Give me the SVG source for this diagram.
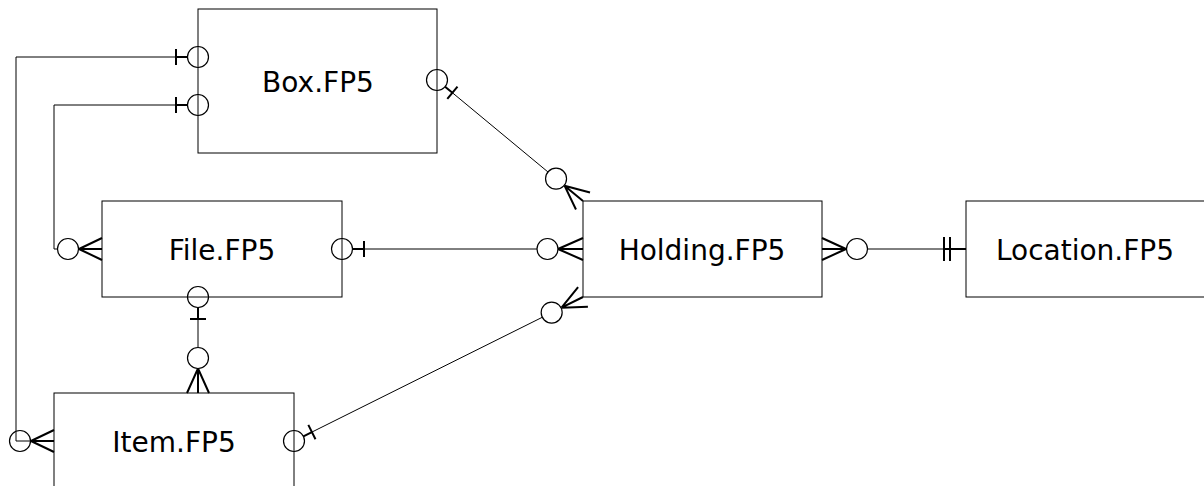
<svg xmlns="http://www.w3.org/2000/svg" width="1204" height="486" viewBox="0 0 1204 486">
  <style>
    .entity rect { fill: #ffffff; stroke: #000000; stroke-width: 1; }
    .entity text { font-family: "DejaVu Sans", Verdana, sans-serif; font-size: 28px; fill: #000000; text-anchor: middle; }
    .line { fill: none; stroke: #000000; stroke-width: 1; }
    .bold { fill: none; stroke: #000000; stroke-width: 2; }
    .ring { fill: none; stroke: #000000; stroke-width: 1.2; }
  </style>
  <rect width="1204" height="486" fill="#ffffff"/>

  <!-- entities -->
  <g id="box">
    <g class="entity"><rect x="198" y="9" width="239" height="144"/><text x="318" y="92">Box.FP5</text></g>
  </g>
  <g id="file">
    <g class="entity"><rect x="102" y="201" width="240" height="96"/><text x="222" y="260">File.FP5</text></g>
  </g>
  <g id="holding">
    <g class="entity"><rect x="583" y="201" width="239" height="96"/><text x="702" y="260">Holding.FP5</text></g>
  </g>
  <g id="location">
    <g class="entity"><rect x="966" y="201" width="240" height="96"/><text x="1085" y="260">Location.FP5</text></g>
  </g>
  <g id="item">
    <g class="entity"><rect x="54" y="393" width="240" height="96"/><text x="174" y="452">Item.FP5</text></g>
  </g>

  <!-- relationships -->
  <g id="connectors">
    <!-- Box -> Item (left loop) -->
    <path class="line" d="M176,57 H16 V441 H31"/>
    <path class="bold" d="M176,49 V65 M176,57 H187.5"/>
    <circle class="ring" cx="198" cy="57" r="10.5"/>
    <circle class="ring" cx="20" cy="441" r="10.5"/>
    <path class="bold" d="M31,441 L54,430 M31,441 H54 M31,441 L54,452"/>

    <!-- Box -> File (left loop) -->
    <path class="line" d="M176,105 H54 V249 H57.5"/>
    <path class="bold" d="M176,97 V113 M176,105 H187.5"/>
    <circle class="ring" cx="198" cy="105" r="10.5"/>
    <circle class="ring" cx="68" cy="249" r="10.5"/>
    <path class="bold" d="M79,249 L102,238 M79,249 H102 M79,249 L102,260"/>

    <!-- Box -> Holding -->
    <circle class="ring" cx="437" cy="80" r="10.5"/>
    <path class="bold" d="M445.09,86.7 L452.4,92.76 M447.3,98.92 L457.5,86.6"/>
    <path class="line" d="M452.4,92.76 L547.96,171.97"/>
    <circle class="ring" cx="556.05" cy="178.67" r="10.5"/>
    <path class="bold" d="M564.52,185.69 L575.98,209.47 M564.52,185.69 L583,201 M564.52,185.69 L590.02,192.53"/>

    <!-- File -> Holding -->
    <circle class="ring" cx="342" cy="249" r="10.5"/>
    <path class="bold" d="M352.5,249 H364 M364,241 V257"/>
    <path class="line" d="M364,249 H537"/>
    <circle class="ring" cx="547.5" cy="249" r="10.5"/>
    <path class="bold" d="M558,249 L583,238 M558,249 H583 M558,249 L583,260"/>

    <!-- File -> Item -->
    <circle class="ring" cx="198" cy="297" r="10.5"/>
    <path class="bold" d="M198,307.5 V319 M190,319 H206"/>
    <path class="line" d="M198,319 V347.5"/>
    <circle class="ring" cx="198" cy="358" r="10.5"/>
    <path class="bold" d="M198,368.5 L187,393 M198,368.5 V393 M198,368.5 L209,393"/>

    <!-- Item -> Holding -->
    <circle class="ring" cx="294" cy="441" r="10.5"/>
    <path class="bold" d="M303.4,436.32 L311.9,432.08 M315.47,439.24 L308.33,424.92"/>
    <path class="line" d="M311.9,432.08 L542.27,317.29"/>
    <circle class="ring" cx="551.67" cy="312.61" r="10.5"/>
    <path class="bold" d="M561.52,307.7 L587.91,306.85 M561.52,307.7 L583,297 M561.52,307.7 L578.09,287.15"/>

    <!-- Holding -> Location -->
    <path class="bold" d="M822,238 L846,249 M822,249 H846 M822,260 L846,249"/>
    <circle class="ring" cx="857" cy="249" r="10.5"/>
    <path class="line" d="M867.5,249 H944"/>
    <path class="bold" d="M944,249 H966 M944,237 V261 M950,237 V261"/>
  </g>
</svg>
